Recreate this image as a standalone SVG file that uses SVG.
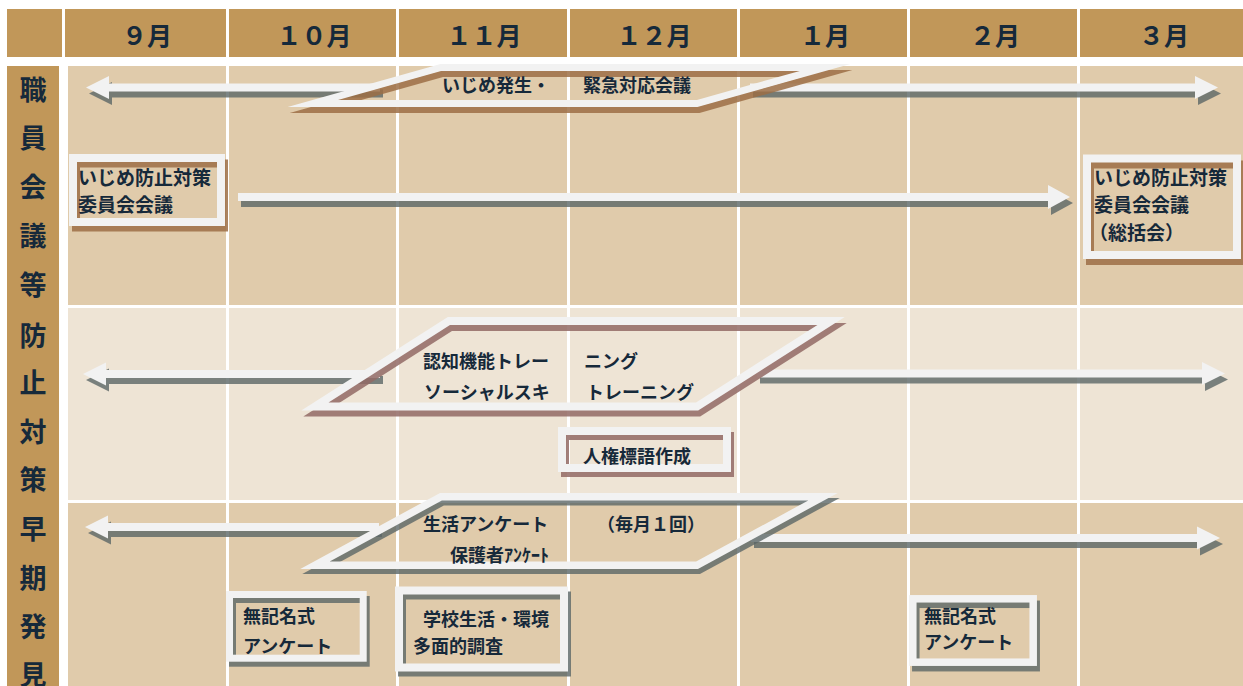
<svg xmlns="http://www.w3.org/2000/svg" width="1243" height="686" viewBox="0 0 1243 686">
<style>
.hd{fill:#C19759}
.c1{fill:#E0CBAB}
.c2{fill:#EEE4D5}
text{font-family:"Noto Sans CJK JP","Noto Sans CJK SC",sans-serif;font-weight:bold;fill:#16293A;dominant-baseline:central}
.mo{font-size:25px;text-anchor:middle}
.lb{font-size:27px;text-anchor:middle}
.t18{font-size:18px}
.t19{font-size:19px}
.ar{fill:#F2F2F2}
.ash{fill:#5B6667;opacity:.8}
.fr{fill:none;stroke:#F2F2F2;stroke-miterlimit:12}
.sb{fill:none;stroke:#9C6F45;opacity:.85;stroke-miterlimit:12}
.sm{fill:none;stroke:#926A65;opacity:.85;stroke-miterlimit:12}
.sg{fill:none;stroke:#5B6667;opacity:.8;stroke-miterlimit:12}
</style>
<rect width="1243" height="686" fill="#FFFFFF"/>
<g id="header">
<rect class="hd" x="7" y="9" width="55" height="48"/>
<rect class="hd" x="65" y="9" width="161" height="48"/>
<rect class="hd" x="229" y="9" width="167" height="48"/>
<rect class="hd" x="399" y="9" width="168" height="48"/>
<rect class="hd" x="570" y="9" width="167" height="48"/>
<rect class="hd" x="740" y="9" width="167" height="48"/>
<rect class="hd" x="910" y="9" width="167" height="48"/>
<rect class="hd" x="1080" y="9" width="163" height="48"/>
<text class="mo" x="147" y="33.5">９月</text>
<text class="mo" x="314" y="33.5">１０月</text>
<text class="mo" x="484" y="33.5">１１月</text>
<text class="mo" x="654" y="33.5">１２月</text>
<text class="mo" x="825" y="33.5">１月</text>
<text class="mo" x="995" y="33.5">２月</text>
<text class="mo" x="1164" y="33.5">３月</text>
</g>
<g id="body-grid">
<rect class="c1" x="68" y="66" width="158" height="239"/>
<rect class="c1" x="229" y="66" width="167" height="239"/>
<rect class="c1" x="399" y="66" width="168" height="239"/>
<rect class="c1" x="570" y="66" width="167" height="239"/>
<rect class="c1" x="740" y="66" width="167" height="239"/>
<rect class="c1" x="910" y="66" width="167" height="239"/>
<rect class="c1" x="1080" y="66" width="163" height="239"/>
<rect class="c2" x="68" y="308" width="158" height="192"/>
<rect class="c2" x="229" y="308" width="167" height="192"/>
<rect class="c2" x="399" y="308" width="168" height="192"/>
<rect class="c2" x="570" y="308" width="167" height="192"/>
<rect class="c2" x="740" y="308" width="167" height="192"/>
<rect class="c2" x="910" y="308" width="167" height="192"/>
<rect class="c2" x="1080" y="308" width="163" height="192"/>
<rect class="c1" x="68" y="503" width="158" height="183"/>
<rect class="c1" x="229" y="503" width="167" height="183"/>
<rect class="c1" x="399" y="503" width="168" height="183"/>
<rect class="c1" x="570" y="503" width="167" height="183"/>
<rect class="c1" x="740" y="503" width="167" height="183"/>
<rect class="c1" x="910" y="503" width="167" height="183"/>
<rect class="c1" x="1080" y="503" width="163" height="183"/>
</g>
<g id="side-label">
<rect class="hd" x="7" y="66" width="52" height="620"/>
<text class="lb" x="33" y="88">職</text>
<text class="lb" x="33" y="136">員</text>
<text class="lb" x="33" y="185">会</text>
<text class="lb" x="33" y="234">議</text>
<text class="lb" x="33" y="283">等</text>
<text class="lb" x="33" y="334">防</text>
<text class="lb" x="33" y="381">止</text>
<text class="lb" x="33" y="430">対</text>
<text class="lb" x="33" y="478">策</text>
<text class="lb" x="33" y="527">早</text>
<text class="lb" x="33" y="576">期</text>
<text class="lb" x="33" y="625">発</text>
<text class="lb" x="33" y="673">見</text>
</g>
<g id="connectors">
<g transform="translate(3,6)">
<polygon class="ash" points="86,87.5 109,76 109,83.5 380,83.5 380,91.5 109,91.5 109,99"/>
<polygon class="ash" points="750,83.5 1195,83.5 1195,76 1218,87.5 1195,99 1195,91.5 750,91.5"/>
<polygon class="ash" points="238,193 1048,193 1048,185 1070,197 1048,209 1048,201 238,201"/>
<polygon class="ash" points="83,374 106,362.5 106,370 380,370 380,378 106,378 106,385.5"/>
<polygon class="ash" points="757,369.5 1202,369.5 1202,362 1225,373.5 1202,385 1202,377.5 757,377.5"/>
<polygon class="ash" points="85,527 108,515.5 108,523 379,523 379,531 108,531 108,538.5"/>
<polygon class="ash" points="751,534 1197,534 1197,526.5 1220,538 1197,549.5 1197,542 751,542"/>
</g>
<polygon class="ar" points="86,87.5 109,76 109,83.5 380,83.5 380,91.5 109,91.5 109,99"/>
<polygon class="ar" points="750,83.5 1195,83.5 1195,76 1218,87.5 1195,99 1195,91.5 750,91.5"/>
<polygon class="ar" points="238,193 1048,193 1048,185 1070,197 1048,209 1048,201 238,201"/>
<polygon class="ar" points="83,374 106,362.5 106,370 380,370 380,378 106,378 106,385.5"/>
<polygon class="ar" points="757,369.5 1202,369.5 1202,362 1225,373.5 1202,385 1202,377.5 757,377.5"/>
<polygon class="ar" points="85,527 108,515.5 108,523 379,523 379,531 108,531 108,538.5"/>
<polygon class="ar" points="751,534 1197,534 1197,526.5 1220,538 1197,549.5 1197,542 751,542"/>
</g>
<g id="node-emergency">
<polygon class="sb" stroke-width="7" transform="translate(2,6)" points="441,67.5 825,67.5 697,103.5 313,103.5"/>
<polygon class="fr" stroke-width="7" points="441,67.5 825,67.5 697,103.5 313,103.5"/>
<text class="t18" x="442" y="84">いじめ発生・</text>
<text class="t18" x="583" y="84">緊急対応会議</text>
</g>
<g id="node-committee-sep">
<rect class="sb" stroke-width="8" x="76" y="163.5" width="148" height="64"/>
<rect class="fr" stroke-width="8" x="73" y="158" width="148" height="64"/>
<text class="t19" x="78" y="176">いじめ防止対策</text>
<text class="t19" x="78" y="203.5">委員会会議</text>
</g>
<g id="node-committee-mar">
<rect class="sb" stroke-width="8" x="1090" y="164.5" width="150" height="96.5"/>
<rect class="fr" stroke-width="8" x="1087" y="158.5" width="150" height="96.5"/>
<text class="t19" x="1094" y="176">いじめ防止対策</text>
<text class="t19" x="1094" y="203.5">委員会会議</text>
<text class="t19" x="1089" y="231.5">（総括会）</text>
</g>
<g id="node-training">
<polygon class="sm" stroke-width="8" transform="translate(2,6)" points="449,321 831,321 697,406.5 315,406.5"/>
<polygon class="fr" stroke-width="8" points="449,321 831,321 697,406.5 315,406.5"/>
<text class="t18" x="423" y="359.5">認知機能トレー</text>
<text class="t18" x="584" y="359.5">ニング</text>
<text class="t18" x="424" y="391">ソーシャルスキ</text>
<text class="t18" x="586" y="391">トレーニング</text>
</g>
<g id="node-slogan">
<rect class="sm" stroke-width="8" x="565" y="436" width="165" height="37"/>
<rect class="fr" stroke-width="8" x="562" y="431" width="165" height="37"/>
<text class="t18" x="583" y="455">人権標語作成</text>
</g>
<g id="node-survey">
<polygon class="sg" stroke-width="7.5" transform="translate(2,5)" points="441,496.7 823,496.7 697,565.3 315,565.3"/>
<polygon class="fr" stroke-width="7.5" points="441,496.7 823,496.7 697,565.3 315,565.3"/>
<text class="t18" x="423" y="522.5">生活アンケート</text>
<text class="t18" x="597" y="522.5">（毎月１回）</text>
<text class="t18" x="450" y="553.5">保護者ｱﾝｹｰﾄ</text>
</g>
<g id="node-anon-oct">
<rect class="sg" stroke-width="7" x="232.5" y="599.5" width="133.7" height="63.7"/>
<rect class="fr" stroke-width="7" x="229.5" y="594.5" width="133.7" height="63.7"/>
<text class="t18" x="243" y="614.5">無記名式</text>
<text class="t18" x="243" y="644.5">アンケート</text>
</g>
<g id="node-school">
<rect class="sg" stroke-width="8" x="402" y="595.5" width="165" height="77"/>
<rect class="fr" stroke-width="8" x="399" y="590.5" width="165" height="77"/>
<text class="t18" x="423" y="618">学校生活・環境</text>
<text class="t18" x="413" y="645">多面的調査</text>
</g>
<g id="node-anon-feb">
<rect class="sg" stroke-width="7.5" x="915.8" y="604.3" width="120.4" height="63.4"/>
<rect class="fr" stroke-width="7.5" x="912.8" y="598.8" width="120.4" height="63.4"/>
<text class="t18" x="924" y="614.5">無記名式</text>
<text class="t18" x="924" y="640.5">アンケート</text>
</g>
</svg>
